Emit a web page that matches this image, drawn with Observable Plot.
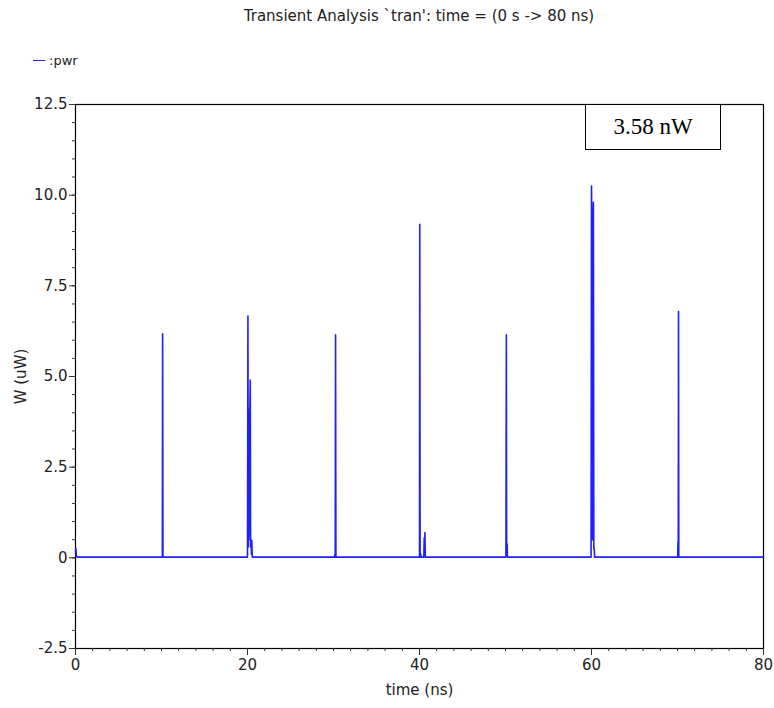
<!DOCTYPE html>
<html>
<head>
<meta charset="utf-8">
<script src="https://cdn.jsdelivr.net/npm/d3@7"></script>
<script src="https://cdn.jsdelivr.net/npm/@observablehq/plot@0.6"></script>
<style>
  html, body { margin: 0; padding: 0; background: #fff; }
  #wrap { position: relative; width: 774px; height: 708px; font-family: "DejaVu Sans", sans-serif; color: #222; }
  #title { position: absolute; left: 75px; width: 688px; top: 7px; text-align: center; font-size: 15px; }
  #legend { position: absolute; left: 33px; top: 53px; font-size: 13px; display: flex; align-items: center; }
  #legend .sw { width: 12px; height: 0; border-top: 1.5px solid #1f1fff; margin-right: 4px; }
  #anno { position: absolute; left: 585px; top: 104px; width: 134px; height: 44px; border: 1.5px solid #000;
          font-family: "Liberation Serif", serif; font-size: 23px; color: #000; display: flex; align-items: center; justify-content: center; background: #fff; }
  #chart { position: absolute; left: 0; top: 0; }
</style>
</head>
<body>
<div id="wrap">
  <div id="chart"></div>
  <div id="title">Transient Analysis `tran': time = (0 s -&gt; 80 ns)</div>
  <div id="legend"><span class="sw"></span><span>:pwr</span></div>
  <div id="anno">3.58 nW</div>
</div>
<script>
// time in ns
const time = [0, 0.05, 0.1, 0.2,
  10.1, 10.13, 10.17, 10.25,
  20.0, 20.05, 20.09, 20.12, 20.16, 20.2, 20.24, 20.28, 20.32, 20.36, 20.42, 20.46, 20.5, 20.55,
  30.1, 30.15, 30.2, 30.24, 30.28,
  40.0, 40.03, 40.07, 40.12, 40.2, 40.5, 40.55, 40.6, 40.63, 40.68,
  50.05, 50.1, 50.13, 50.16, 50.19, 50.22,
  59.95, 60.0, 60.04, 60.07, 60.1, 60.14, 60.18, 60.22, 60.27, 60.32, 60.36,
  70.02, 70.06, 70.09, 70.12, 70.15,
  80];
// power in uW
const pwr = [0.2, 0.25, 0.05, 0.02,
  0.02, 6.18, 0.05, 0.02,
  0.02, 6.67, 0.3, 4.1, 0.5, 4.1, 0.6, 4.1, 4.9, 0.3, 0.5, 0.1, 0.48, 0.02,
  0.02, 0.08, 0.02, 6.15, 0.02,
  0.02, 9.2, 0.02, 0.12, 0.02, 0.02, 0.55, 0.1, 0.7, 0.02,
  0.02, 6.15, 0.38, 0.1, 0.38, 0.02,
  0.02, 10.25, 9.07, 0.5, 9.07, 0.5, 9.07, 9.8, 0.25, 0.25, 0.02,
  0.02, 0.45, 0.1, 6.8, 0.02,
  0.02];

const yMajor = [-2.5, 0, 2.5, 5, 7.5, 10, 12.5];
const yMinor = d3.range(-2.5, 12.51, 0.5);
const xMajor = [0, 20, 40, 60, 80];
const xMinor = d3.range(0, 80.1, 2);

const data = time.map((t, i) => ({t, p: pwr[i]}));

const chart = Plot.plot({
  width: 774,
  height: 708,
  marginTop: 104,
  marginBottom: 60,
  marginLeft: 75,
  marginRight: 11,
  style: {fontFamily: "DejaVu Sans, sans-serif", fontSize: "15px", color: "#222", background: "transparent"},
  x: {domain: [0, 80], label: null},
  y: {domain: [-2.5, 12.5], label: null},
  marks: [
    Plot.frame({stroke: "#000", strokeWidth: 1.2}),
    Plot.axisY({ticks: yMinor, tickSize: 3, text: null, label: null, stroke: "#333"}),
    Plot.axisY({ticks: yMajor, tickSize: 6, tickPadding: 2, stroke: "#333",
      tickFormat: d => d === 0 ? "0" : (d < 0 ? "-" + Math.abs(d).toFixed(1) : d.toFixed(1)),
      label: "W (uW)", labelAnchor: "center", labelArrow: "none", labelOffset: 60}),
    Plot.axisX({ticks: xMinor, tickSize: 3, text: null, label: null, stroke: "#333"}),
    Plot.axisX({ticks: xMajor, tickSize: 7, tickPadding: 4, stroke: "#333",
      label: "time (ns)", labelAnchor: "center", labelArrow: "none", labelOffset: 46}),
    Plot.line(data, {x: "t", y: "p", stroke: "#1f1fff", strokeWidth: 1.6, curve: "linear"})
  ]
});
document.getElementById("chart").appendChild(chart);
</script>
</body>
</html>
